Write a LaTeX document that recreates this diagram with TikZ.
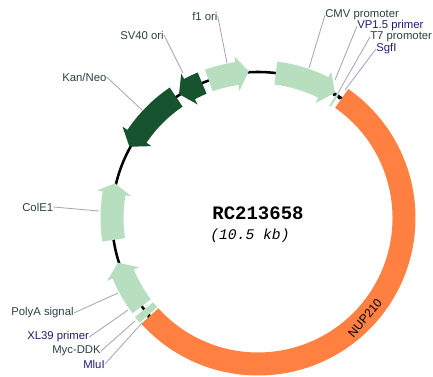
\documentclass[tikz,border=0pt]{standalone}
\usepackage{xcolor}
\usepackage{fontspec}
\setmainfont{Liberation Sans}
\newfontfamily\monofam{Liberation Mono}
\usetikzlibrary{positioning,calc}
\definecolor{FeatLight}{HTML}{B7DEBE}
\definecolor{FeatDark}{HTML}{17532F}
\definecolor{InsertOrange}{HTML}{FF8040}
\definecolor{LeaderGray}{HTML}{A2A2B8}
\definecolor{LabelDark}{HTML}{2A4242}
\definecolor{LabelNavy}{HTML}{1C1C78}
\tikzset{
  featlabel/.style={anchor=west, inner sep=0pt, text=LabelDark, font=\fontsize{8.5}{10}\selectfont},
  sitelabel/.style={anchor=west, inner sep=0pt, text=LabelNavy, font=\fontsize{8.5}{10}\selectfont},
  leader/.style={draw=LeaderGray, line width=0.6pt}
}
% colour, tail angle, head base angle, tip angle
\newcommand{\plasmidarrow}[4]{
  \fill[#1] (#2:134.5) arc[start angle=#2, end angle=#3, radius=134.5]
    -- (#3:128.5) -- (#4:147) -- (#3:163.5) -- (#3:157.5)
    arc[start angle=#3, end angle=#2, radius=157.5] -- cycle;
}
\begin{document}
\begin{tikzpicture}[x=0.75pt,y=0.75pt]
  \useasboundingbox (0,0) rectangle (433,377);

  \begin{scope}[shift={(258,159)}]
    \draw[black, line width=1.9pt] (0,0) circle[radius=146];

    % insert
    \fill[InsertOrange] (55:134.5) arc[start angle=55, end angle=-137.8, radius=134.5]
      -- (-137.8:157.5) arc[start angle=-137.8, end angle=55, radius=157.5] -- cycle;

    % features
    \plasmidarrow{FeatLight}{83}{63.4}{58.4}
    \plasmidarrow{FeatLight}{109.7}{98.3}{93.6}
    \plasmidarrow{FeatDark}{112.5}{118}{122.5}
    \plasmidarrow{FeatDark}{124.1}{146}{151}
    \plasmidarrow{FeatLight}{188.6}{170.3}{166.4}
    \plasmidarrow{FeatLight}{217.2}{202.6}{197.7}

    % small bands at both ends of the insert
    \fill[FeatLight] (218.8:134.5) arc[start angle=218.8, end angle=221.5, radius=134.5]
      -- (221.5:158) arc[start angle=221.5, end angle=218.8, radius=158] -- cycle;
    \fill[FeatLight] (56.8:133) arc[start angle=56.8, end angle=57.6, radius=133]
      -- (57.6:148) arc[start angle=57.6, end angle=56.8, radius=148] -- cycle;

    \fill[black] (-110,-99) circle[radius=1];
    \fill[black] (76,123) circle[radius=1.3];
    \draw[black, line width=1.4pt] (80,121) -- (82,119);

    \node[rotate=50, font=\fontsize{9}{10}\selectfont] (nup) at (107,-100) {NUP210};
    \node[font=\monofam\bfseries\fontsize{14.25}{16}\selectfont] (title) at (0,5) {RC213658};
    \node[font=\monofam\itshape\fontsize{11}{13}\selectfont] (size) at (-8,-18) {(10.5 kb)};
  \end{scope}

  \node[featlabel] (cmv) at (325,362) {CMV promoter};
  \node[sitelabel] (vpp) at (357,351) {VP1.5 primer};
  \node[featlabel] (tsv) at (370,340) {T7 promoter};
  \node[sitelabel] (sgf) at (376,328) {SgfI};
  \node[featlabel] (fori) at (192,361) {f1 ori};
  \node[featlabel] (sv) at (120,342) {SV40 ori};
  \node[featlabel] (kan) at (62,300) {Kan/Neo};
  \node[featlabel] (col) at (22,170) {ColE1};
  \node[featlabel] (pola) at (11,64) {PolyA signal};
  \node[sitelabel] (xl) at (27,40) {XL39 primer};
  \node[featlabel] (myc) at (52,26) {Myc-DDK};
  \node[sitelabel] (mlu) at (83,13) {MluI};

  \coordinate (cmvend) at (309,309);
  \coordinate (vppend) at (335,297);
  \coordinate (tsvend) at (338,284);
  \coordinate (sgfend) at (345,287);
  \coordinate (foriend) at (227,314);
  \coordinate (svend) at (183,304);
  \coordinate (kanend) at (142,267);
  \coordinate (colend) at (99,166);
  \coordinate (polaend) at (118,84);
  \coordinate (xlend) at (128,67);
  \coordinate (mycend) at (135,56);
  \coordinate (mluend) at (142,54);

  \foreach \lab/\tip in {cmv/cmvend, vpp/vppend, tsv/tsvend, sgf/sgfend} {
    \draw[leader] (\lab.west) -- (\tip);
  }
  \foreach \lab/\tip in {fori/foriend, sv/svend, kan/kanend, pola/polaend, xl/xlend, myc/mycend, mlu/mluend, col/colend} {
    \draw[leader] (\lab.east) -- (\tip);
  }
\end{tikzpicture}
\end{document}
